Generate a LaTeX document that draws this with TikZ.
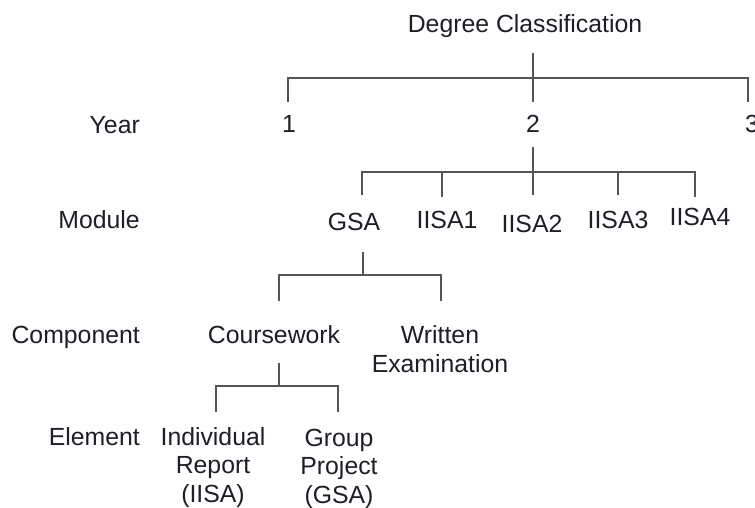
\documentclass[tikz,border=0pt]{standalone}
\usepackage{fontspec}
\setmainfont{Liberation Sans}
\definecolor{txt}{HTML}{1E1E28}
\definecolor{ln}{HTML}{555555}
\begin{document}
\begin{tikzpicture}[x=1pt,y=-1pt,
  lbl/.style={inner sep=0pt,anchor=base,text=txt,font=\fontsize{24.8}{28.5}\selectfont,align=center},
  rowlbl/.style={lbl,anchor=base east},
  conn/.style={draw=ln,line width=2pt}]
\useasboundingbox[fill=white] (0,0) rectangle (755,508);
% texts
\node[lbl] (dc) at (525,33) {Degree Classification};
\node[rowlbl] (year) at (140,134) {Year};
\node[rowlbl] (module) at (140,228) {Module};
\node[rowlbl] (component) at (140,343) {Component};
\node[rowlbl] (element) at (140,445) {Element};
\node[lbl] (y1) at (289,133) {1};
\node[lbl] (y2) at (533,133) {2};
\node[lbl] (y3) at (752,133) {3};
\node[lbl] (gsa) at (354,230) {GSA};
\node[lbl] (iisa1) at (447,228) {IISA1};
\node[lbl] (iisa2) at (532,232) {IISA2};
\node[lbl] (iisa3) at (618,228) {IISA3};
\node[lbl] (iisa4) at (700,225) {IISA4};
\node[lbl] (cw) at (274,343) {Coursework};
\node[lbl] (we) at (440,372) {Written\\Examination};
\node[lbl] (ir) at (213,502) {Individual\\Report\\(IISA)};
\node[lbl] (gp) at (339,503) {Group\\Project\\(GSA)};
% level 1 connectors
\coordinate (s1) at (533,53);
\coordinate (b1) at (533,78);
\coordinate (d11) at (288,102);
\coordinate (d12) at (533,102);
\coordinate (d13) at (748,102);
\draw[conn] (s1) -- (d12);
\draw[conn] (d11) |- (b1) -| (d13);
% level 2 connectors
\coordinate (s2) at (533,147);
\coordinate (b2) at (533,172);
\coordinate (d21) at (362,195);
\coordinate (d22) at (442,197);
\coordinate (d23) at (533,195);
\coordinate (d24) at (618,195);
\coordinate (d25) at (695,197);
\draw[conn] (s2) -- (d23);
\draw[conn] (d21) |- (b2) -| (d25);
\draw[conn] (d22) -- (d22 |- b2);
\draw[conn] (d24) -- (d24 |- b2);
% level 3 connectors
\coordinate (s3) at (363,252);
\coordinate (b3) at (363,275);
\coordinate (d31) at (279,301);
\coordinate (d32) at (441,301);
\draw[conn] (s3) -- (b3);
\draw[conn] (d31) |- (b3) -| (d32);
% level 4 connectors
\coordinate (s4) at (279,363);
\coordinate (b4) at (279,386);
\coordinate (d41) at (216,412);
\coordinate (d42) at (338,412);
\draw[conn] (s4) -- (b4);
\draw[conn] (d41) |- (b4) -| (d42);
\end{tikzpicture}
\end{document}
